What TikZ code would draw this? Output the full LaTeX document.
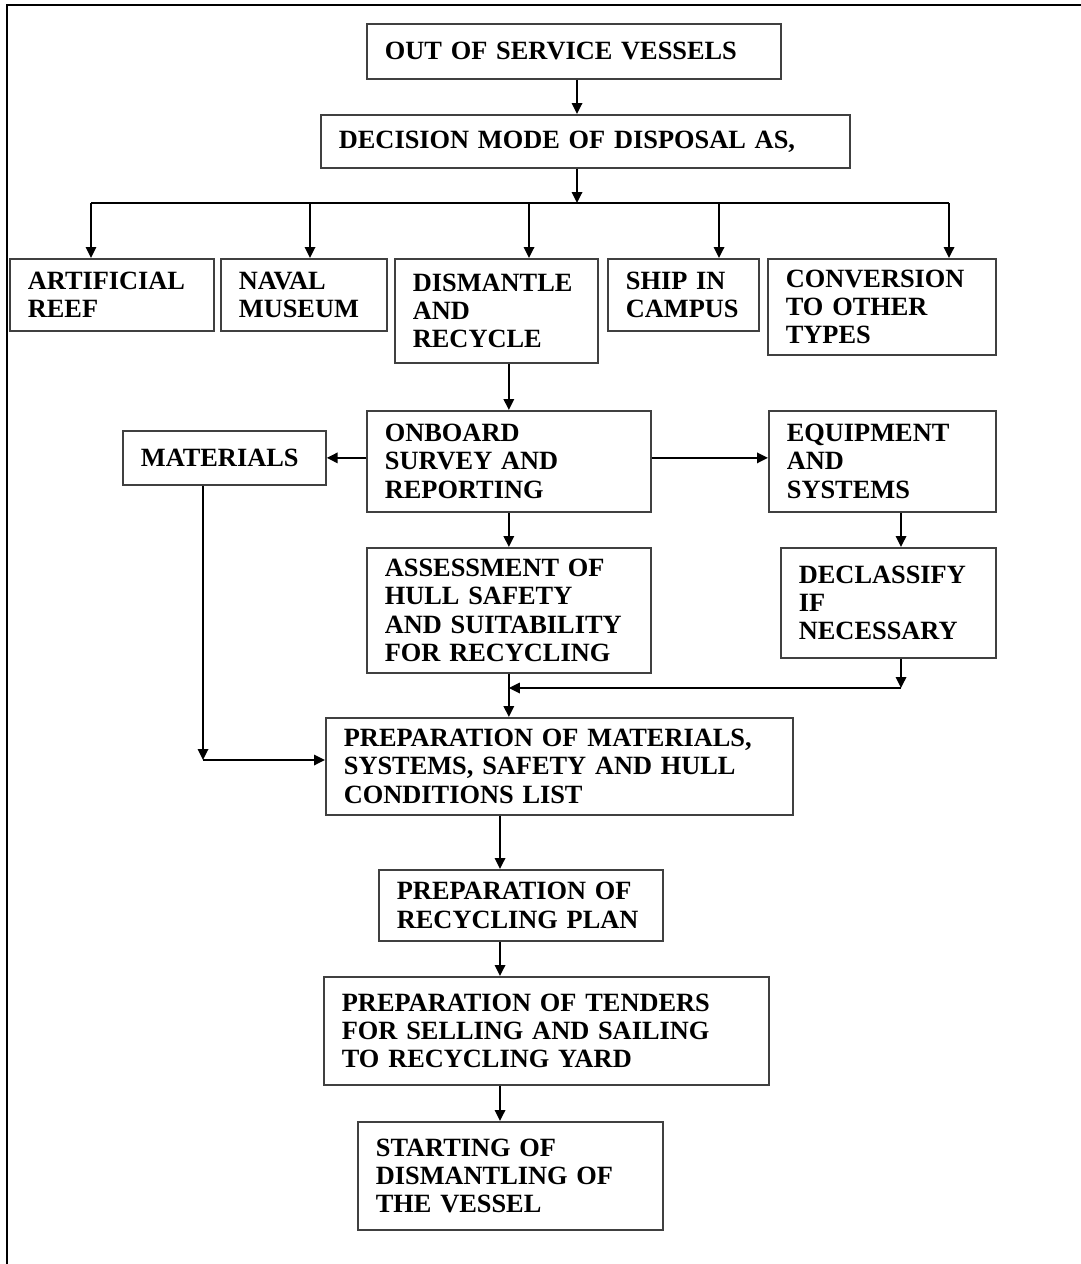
\documentclass[tikz,border=0pt]{standalone}
\usepackage{fontspec}
\setmainfont{Liberation Serif}
\usetikzlibrary{arrows.meta}

\tikzset{
    stage/.style 2 args={draw=black!75, line width=1pt, anchor=north west,
        align=left, inner xsep=0.36cm, text width=#1cm, minimum height=#2cm,
        font=\bfseries\fontsize{15}{16}\selectfont},
    flow/.style={line width=1pt, -{Triangle[length=2.2mm,width=2.1mm]}},
    link/.style={line width=1pt}
}

\begin{document}
\begin{tikzpicture}[x=0.02cm, y=-0.02cm]
    \useasboundingbox (0,0) rectangle (1081,1264);
    \draw [line width=1.2pt] (1081,5) -- (7,5) -- (7,1264);

    % top of the chart
    \node [stage={7.56}{1.10}] (vessels) at (366,23) {OUT OF SERVICE VESSELS};
    \node [stage={9.86}{1.06}] (decision) at (320,114) {DECISION MODE OF DISPOSAL AS,};

    % modes of disposal
    \node [stage={3.36}{1.44}] (reef) at (9,258) {ARTIFICIAL\\REEF};
    \node [stage={2.60}{1.44}] (museum) at (220,258) {NAVAL\\MUSEUM};
    \node [stage={3.34}{2.08}] (recycle) at (394,258) {DISMANTLE\\AND\\RECYCLE};
    \node [stage={2.30}{1.44}] (campus) at (607,258) {SHIP IN\\CAMPUS};
    \node [stage={3.84}{1.92}] (convert) at (767,258) {CONVERSION\\TO OTHER\\TYPES};

    % survey
    \node [stage={3.34}{1.08}] (materials) at (122,430) {MATERIALS};
    \node [stage={4.96}{2.02}] (survey) at (366,410) {ONBOARD\\SURVEY AND\\REPORTING};
    \node [stage={3.82}{2.02}] (equipment) at (768,410) {EQUIPMENT\\AND\\SYSTEMS};
    \node [stage={4.96}{2.50}] (hull) at (366,547) {ASSESSMENT OF\\HULL SAFETY\\AND SUITABILITY\\FOR RECYCLING};
    \node [stage={3.58}{2.20}] (declassify) at (780,547) {DECLASSIFY\\IF\\NECESSARY};

    % preparation
    \node [stage={8.62}{1.94}] (lists) at (325,717) {PREPARATION OF MATERIALS,\\SYSTEMS, SAFETY AND HULL\\CONDITIONS LIST};
    \node [stage={4.96}{1.42}] (plan) at (378,869) {PREPARATION OF\\RECYCLING PLAN};
    \node [stage={8.18}{2.16}] (tenders) at (323,976) {PREPARATION OF TENDERS\\FOR SELLING AND SAILING\\TO RECYCLING YARD};
    \node [stage={5.38}{2.16}] (start) at (357,1121) {STARTING OF\\DISMANTLING OF\\THE VESSEL};

    \coordinate (bus) at (577,203);
    \coordinate (b1) at (91,203);
    \coordinate (b2) at (310,203);
    \coordinate (b3) at (529,203);
    \coordinate (b4) at (719,203);
    \coordinate (b5) at (949,203);
    \coordinate (merge) at (901,688);
    \coordinate (matdrop) at (203,760);
    \coordinate (spine) at (500,0);

    \draw [flow] (vessels.south -| bus) -- (decision.north -| bus);
    \draw [flow] (decision.south -| bus) -- (bus);
    \draw [link] (b1) -- (b5);
    \draw [flow] (b1) -- (b1 |- reef.north);
    \draw [flow] (b2) -- (b2 |- museum.north);
    \draw [flow] (b3) -- (b3 |- recycle.north);
    \draw [flow] (b4) -- (b4 |- campus.north);
    \draw [flow] (b5) -- (b5 |- convert.north);

    \draw [flow] (survey.north |- recycle.south) -- (survey.north);
    \draw [flow] (survey.west |- materials.east) -- (materials.east);
    \draw [flow] (survey.east |- materials.east) -- (equipment.west |- materials.east);
    \draw [flow] (survey.south) -- (hull.north);
    \draw [flow] (equipment.south -| merge) -- (declassify.north -| merge);
    \draw [flow] (declassify.south -| merge) -- (merge);
    \draw [flow] (merge) -- (hull.south |- merge);
    \draw [flow] (hull.south) -- (hull.south |- lists.north);
    \draw [flow] (materials.south -| matdrop) -- (matdrop);
    \draw [flow] (matdrop) -- (matdrop -| lists.west);

    \draw [flow] (lists.south -| spine) -- (plan.north -| spine);
    \draw [flow] (plan.south -| spine) -- (tenders.north -| spine);
    \draw [flow] (tenders.south -| spine) -- (start.north -| spine);
\end{tikzpicture}
\end{document}
